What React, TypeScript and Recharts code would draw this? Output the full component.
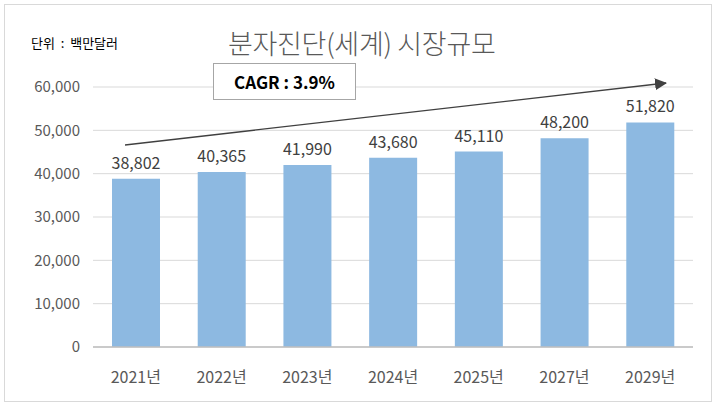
import { BarChart, Bar, XAxis, YAxis, CartesianGrid, LabelList } from 'recharts';

const years = ['2021년', '2022년', '2023년', '2024년', '2025년', '2027년', '2029년'];
const marketSize = [38802, 40365, 41990, 43680, 45110, 48200, 51820];
const yTicks = [0, 10000, 20000, 30000, 40000, 50000, 60000];

const data = years.map((year, i) => ({ year, value: marketSize[i] }));

const FONT = '"Noto Sans CJK KR", sans-serif';
const fmt = (v: number) => v.toLocaleString('en-US');

export default function App() {
  return (
    <div
      style={{
        position: 'absolute',
        left: 4,
        top: 4,
        width: 706,
        height: 396,
        border: '1px solid #d9d9d9',
        background: '#fff',
        fontFamily: FONT,
      }}
    >
      <BarChart
        width={706}
        height={396}
        data={data}
        margin={{ top: 82, right: 18, bottom: 0, left: 10 }}
      >
        <CartesianGrid vertical={false} stroke="#d9d9d9" />
        <XAxis
          dataKey="year"
          height={54}
          tickLine={false}
          axisLine={{ stroke: '#bfbfbf', strokeWidth: 1.5 }}
          tickMargin={19}
          tick={{ fill: '#595959', fontSize: 16, fontFamily: FONT }}
        />
        <YAxis
          width={78}
          domain={[0, 60000]}
          ticks={yTicks}
          tickFormatter={fmt}
          axisLine={false}
          tickLine={false}
          tickMargin={7}
          tick={{ fill: '#595959', fontSize: 15, fontFamily: FONT }}
        />
        <Bar dataKey="value" fill="#8db9e1" barSize={48} isAnimationActive={false}>
          <LabelList
            dataKey="value"
            position="top"
            offset={10}
            formatter={(v: number) => fmt(v)}
            style={{ fill: '#404040', fontSize: 16, fontFamily: FONT }}
          />
        </Bar>
      </BarChart>

      {/* unit + title */}
      <div style={{ position: 'absolute', left: 26, top: 28, fontSize: 13, color: '#000', fontFamily: FONT, whiteSpace: 'pre' }}>
        {'단위  :  백만달러'}
      </div>
      <div
        style={{
          position: 'absolute',
          left: 223,
          top: 18,
          fontSize: 27,
          color: '#595959',
          fontFamily: FONT,
          fontWeight: 300,
          letterSpacing: -0.3,
          whiteSpace: 'pre',
        }}
      >
        분자진단(세계) 시장규모
      </div>

      {/* CAGR arrow */}
      <svg width={706} height={396} style={{ position: 'absolute', left: 0, top: 0, pointerEvents: 'none' }}>
        <defs>
          <marker id="arrowHead" markerWidth="12" markerHeight="12" refX="11" refY="6" orient="auto" markerUnits="userSpaceOnUse">
            <path d="M0,0 L12,6 L0,12 z" fill="#404040" />
          </marker>
        </defs>
        <line x1={120} y1={140} x2={661} y2={78} stroke="#404040" strokeWidth={1.3} markerEnd="url(#arrowHead)" />
      </svg>

      <div
        style={{
          position: 'absolute',
          left: 208,
          top: 58,
          width: 143,
          height: 37,
          border: '1px solid #a6a6a6',
          background: '#fff',
          boxSizing: 'border-box',
          display: 'flex',
          alignItems: 'center',
          justifyContent: 'center',
          fontWeight: 'bold',
          fontSize: 17,
          color: '#000',
          fontFamily: FONT,
        }}
      >
        CAGR : 3.9%
      </div>
    </div>
  );
}
